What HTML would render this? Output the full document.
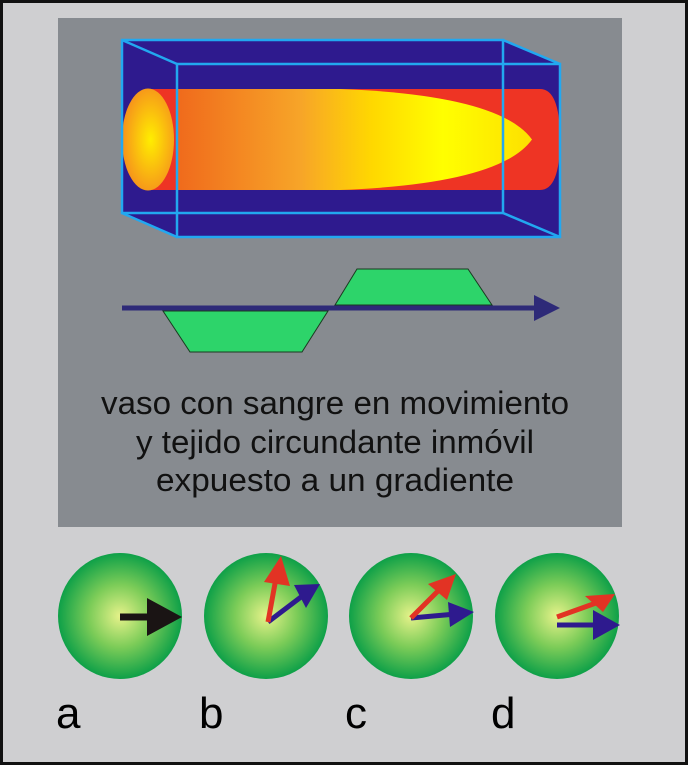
<!DOCTYPE html>
<html><head><meta charset="utf-8"><style>
html,body{margin:0;padding:0;background:#cfcfd1;}
svg{display:block;}
text{font-family:"Liberation Sans",Arial,sans-serif;}
</style></head><body>
<svg width="688" height="765" viewBox="0 0 688 765" xmlns="http://www.w3.org/2000/svg">
<defs>
<linearGradient id="body" x1="0" x2="1" y1="0" y2="0">
<stop offset="0" stop-color="#f06a1c"/>
<stop offset="0.35" stop-color="#f7a528"/>
<stop offset="0.55" stop-color="#ffd800"/>
<stop offset="0.75" stop-color="#ffff00"/>
<stop offset="1" stop-color="#fde000"/>
</linearGradient>
<radialGradient id="cap" cx="0.55" cy="0.5" r="0.6">
<stop offset="0" stop-color="#ffee00"/>
<stop offset="1" stop-color="#f58a1e"/>
</radialGradient>
<radialGradient id="ball" cx="0.5" cy="0.5" r="0.5">
<stop offset="0" stop-color="#e6f28a"/>
<stop offset="0.5" stop-color="#7ccc58"/>
<stop offset="1" stop-color="#0ea048"/>
</radialGradient>
</defs>
<rect x="1.5" y="1.5" width="685" height="762" fill="#cfcfd1" stroke="#111" stroke-width="3"/>
<rect x="58" y="18" width="564" height="509" fill="#878b90"/>
<polygon points="122,40 505,40 560,64 560,237 177,237 122,213" fill="#2e1a8e"/>
<path d="M148,89 L540,89 Q560,89 560,139.5 Q560,190 540,190 L148,190 Z" fill="#ee3424"/>
<path d="M177,89 L340,89 Q500,95 532,139.5 Q500,184 340,190 L177,190 Z" fill="url(#body)"/>
<ellipse cx="148" cy="139.5" rx="26" ry="51" fill="url(#cap)"/>
<g stroke="#22a8f0" stroke-width="2.5" fill="none">
<rect x="122" y="40" width="381" height="173"/>
<rect x="177" y="64" width="383" height="173"/>
<line x1="122" y1="40" x2="177" y2="64"/>
<line x1="503" y1="40" x2="560" y2="64"/>
<line x1="122" y1="213" x2="177" y2="237"/>
<line x1="503" y1="213" x2="560" y2="237"/>
</g>
<polygon points="163,311 328,311 302,352 190,352" fill="#2dd46a" stroke="#1a3a20" stroke-width="1"/>
<polygon points="335,305 492,305 468,269 357,269" fill="#2dd46a" stroke="#1a3a20" stroke-width="1"/>
<line x1="122" y1="308" x2="540" y2="308" stroke="#2e2a78" stroke-width="5"/>
<polygon points="534,295 560,308 534,321" fill="#2e2a78"/>
<g font-size="32" fill="#111">
<text x="101" y="414" textLength="468" lengthAdjust="spacingAndGlyphs">vaso con sangre en movimiento</text>
<text x="136" y="453" textLength="398" lengthAdjust="spacingAndGlyphs">y tejido circundante inmóvil</text>
<text x="156" y="491" textLength="358" lengthAdjust="spacingAndGlyphs">expuesto a un gradiente</text>
</g>
<g fill="url(#ball)">
<ellipse cx="120" cy="616" rx="62" ry="63"/>
<ellipse cx="266" cy="616" rx="62" ry="63"/>
<ellipse cx="411" cy="616" rx="62" ry="63"/>
<ellipse cx="557" cy="616" rx="62" ry="63"/>
</g>
<line x1="120" y1="617" x2="150" y2="617" stroke="#1a1414" stroke-width="7"/>
<polygon points="147,598 182,617 147,636" fill="#1a1414"/>
<g stroke-width="5" stroke-linecap="butt">
<line x1="268" y1="622" x2="301" y2="597" stroke="#2e1a8e"/>
<polygon points="294,585 320,584 306,608" fill="#2e1a8e"/>
<line x1="268" y1="622" x2="276" y2="578" stroke="#e23324"/>
<polygon points="264,582 281,556 290,586" fill="#e23324"/>
<line x1="411" y1="618" x2="456" y2="614" stroke="#2e1a8e"/>
<polygon points="448,602 474,612 450,627" fill="#2e1a8e"/>
<line x1="411" y1="618" x2="442" y2="587" stroke="#e23324"/>
<polygon points="428,584 456,574 447,600" fill="#e23324"/>
<line x1="557" y1="625" x2="598" y2="625" stroke="#2e1a8e"/>
<polygon points="593,610 620,625 593,640" fill="#2e1a8e"/>
<line x1="557" y1="617" x2="596" y2="603" stroke="#e23324"/>
<polygon points="585,596 615,594 603,612" fill="#e23324"/>
</g>
<g font-size="44" fill="#000">
<text x="56" y="728">a</text>
<text x="199" y="728">b</text>
<text x="345" y="728">c</text>
<text x="491" y="728">d</text>
</g>
</svg>
</body></html>
